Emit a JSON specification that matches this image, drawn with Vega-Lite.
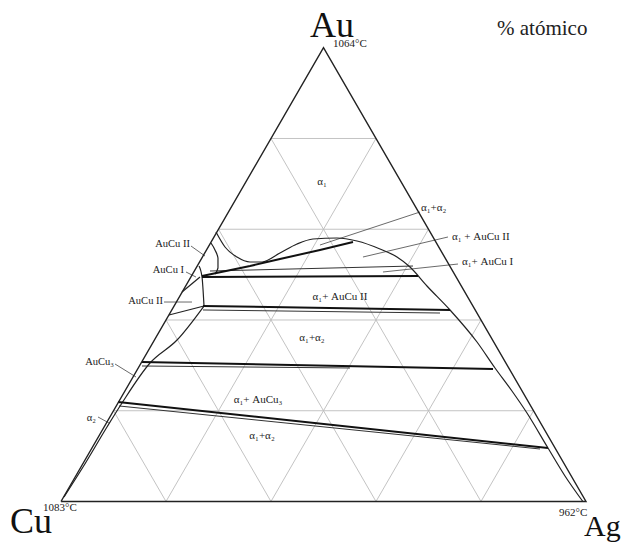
{
  "$schema": "https://vega.github.io/schema/vega-lite/v6.json",
  "width": 624,
  "height": 542,
  "padding": 0,
  "autosize": "none",
  "background": "white",
  "config": {"view": {"stroke": null}},
  "datasets": {
    "grid": [
      {"x": 10, "y": 17.32, "x2": 90, "y2": 17.32},
      {"x": 20, "y": 34.64, "x2": 80, "y2": 34.64},
      {"x": 30, "y": 51.96, "x2": 70, "y2": 51.96},
      {"x": 40, "y": 69.28, "x2": 60, "y2": 69.28},
      {"x": 20, "y": 0, "x2": 60, "y2": 69.28},
      {"x": 40, "y": 0, "x2": 70, "y2": 51.96},
      {"x": 60, "y": 0, "x2": 80, "y2": 34.64},
      {"x": 80, "y": 0, "x2": 90, "y2": 17.32},
      {"x": 80, "y": 0, "x2": 40, "y2": 69.28},
      {"x": 60, "y": 0, "x2": 30, "y2": 51.96},
      {"x": 40, "y": 0, "x2": 20, "y2": 34.64},
      {"x": 20, "y": 0, "x2": 10, "y2": 17.32}
    ],
    "outline": [
      {"i": 0, "x": 0, "y": 0},
      {"i": 1, "x": 100, "y": 0},
      {"i": 2, "x": 50, "y": 86.6},
      {"i": 3, "x": 0, "y": 0}
    ],
    "boundaries": [
      {"id": "dome", "i": 0, "x": 29.52, "y": 51.43},
      {"id": "dome", "i": 1, "x": 31.24, "y": 48.57},
      {"id": "dome", "i": 2, "x": 33.52, "y": 46.66},
      {"id": "dome", "i": 3, "x": 36.0, "y": 45.71},
      {"id": "dome", "i": 4, "x": 38.29, "y": 45.71},
      {"id": "dome", "i": 5, "x": 41.71, "y": 47.42},
      {"id": "dome", "i": 6, "x": 44.95, "y": 49.14},
      {"id": "dome", "i": 7, "x": 48.0, "y": 50.1},
      {"id": "dome", "i": 8, "x": 52.57, "y": 50.29},
      {"id": "dome", "i": 9, "x": 56.38, "y": 49.71},
      {"id": "dome", "i": 10, "x": 60.76, "y": 48.19},
      {"id": "dome", "i": 11, "x": 64.0, "y": 46.66},
      {"id": "dome", "i": 12, "x": 66.48, "y": 44.75},
      {"id": "dome", "i": 13, "x": 69.71, "y": 41.13},
      {"id": "dome", "i": 14, "x": 74.1, "y": 36.55},
      {"id": "dome", "i": 15, "x": 79.24, "y": 30.44},
      {"id": "dome", "i": 16, "x": 82.67, "y": 25.48},
      {"id": "dome", "i": 17, "x": 85.9, "y": 21.09},
      {"id": "dome", "i": 18, "x": 88.76, "y": 16.89},
      {"id": "dome", "i": 19, "x": 92.76, "y": 10.21},
      {"id": "dome", "i": 20, "x": 96.0, "y": 4.87},
      {"id": "dome", "i": 21, "x": 99.4, "y": 0},
      {"id": "cuSide", "i": 0, "x": 27.24, "y": 37.31},
      {"id": "cuSide", "i": 1, "x": 22.1, "y": 30.82},
      {"id": "cuSide", "i": 2, "x": 16.95, "y": 26.43},
      {"id": "cuSide", "i": 3, "x": 11.62, "y": 18.8},
      {"id": "cuSide", "i": 4, "x": 8.76, "y": 14.22},
      {"id": "cuSide", "i": 5, "x": 4.19, "y": 6.58},
      {"id": "cuSide", "i": 6, "x": 0.57, "y": 0.86},
      {"id": "arcII", "i": 0, "x": 28.57, "y": 49.33},
      {"id": "arcII", "i": 1, "x": 29.33, "y": 48.0},
      {"id": "arcII", "i": 2, "x": 29.9, "y": 46.47},
      {"id": "arcII", "i": 3, "x": 29.9, "y": 44.56},
      {"id": "arcII", "i": 4, "x": 29.33, "y": 43.42},
      {"id": "barII", "i": 0, "x": 26.29, "y": 44.94},
      {"id": "barII", "i": 1, "x": 26.86, "y": 42.84},
      {"id": "barII", "i": 2, "x": 27.24, "y": 37.31},
      {"id": "linkI", "i": 0, "x": 23.05, "y": 39.98},
      {"id": "linkI", "i": 1, "x": 26.48, "y": 42.84},
      {"id": "linkII", "i": 0, "x": 20.57, "y": 35.59},
      {"id": "linkII", "i": 1, "x": 27.24, "y": 37.31}
    ],
    "heavyTies": [
      {"id": "t1", "i": 0, "x": 26.86, "y": 43.03},
      {"id": "t1", "i": 1, "x": 36.0, "y": 44.94},
      {"id": "t1", "i": 2, "x": 41.71, "y": 46.28},
      {"id": "t1", "i": 3, "x": 49.33, "y": 48.0},
      {"id": "t1", "i": 4, "x": 55.62, "y": 49.52},
      {"id": "lb", "i": 0, "x": 26.86, "y": 42.84},
      {"id": "lb", "i": 1, "x": 68.0, "y": 43.03},
      {"id": "lc", "i": 0, "x": 27.05, "y": 37.31},
      {"id": "lc", "i": 1, "x": 74.1, "y": 36.55},
      {"id": "ta", "i": 0, "x": 15.43, "y": 26.62},
      {"id": "ta", "i": 1, "x": 82.29, "y": 25.29},
      {"id": "tc", "i": 0, "x": 10.86, "y": 18.99},
      {"id": "tc", "i": 1, "x": 92.76, "y": 10.21}
    ],
    "lightTies": [
      {"x": 28.38, "y": 43.99, "x2": 67.05, "y2": 44.94},
      {"x": 27.05, "y": 36.55, "x2": 72.19, "y2": 35.97},
      {"x": 15.43, "y": 25.86, "x2": 55.05, "y2": 25.48},
      {"x": 11.05, "y": 18.23, "x2": 91.24, "y2": 10.02}
    ],
    "leaders": [
      {"x": 49.33, "y": 48.95, "x2": 68.38, "y2": 55.25},
      {"x": 57.52, "y": 46.66, "x2": 73.71, "y2": 50.48},
      {"x": 61.33, "y": 43.8, "x2": 75.62, "y2": 45.32},
      {"x": 24.76, "y": 48.76, "x2": 27.43, "y2": 46.85},
      {"x": 23.81, "y": 43.8, "x2": 25.71, "y2": 42.84},
      {"x": 19.62, "y": 38.07, "x2": 24.95, "y2": 38.07},
      {"x": 10.29, "y": 26.24, "x2": 14.29, "y2": 23.76},
      {"x": 7.05, "y": 16.13, "x2": 9.14, "y2": 14.98}
    ],
    "elements": [
      {"x": 47.43, "y": 88.65, "text": "Au"},
      {"x": -9.71, "y": -6.01, "text": "Cu"}
    ],
    "silver": [
      {"x": 99.62, "y": -6.68, "text": "Ag"}
    ],
    "meltingPoints": [
      {"x": 51.81, "y": 86.74, "text": "1064°C"},
      {"x": -3.43, "y": -1.81, "text": "1083°C"},
      {"x": 94.86, "y": -2.77, "text": "962°C"}
    ],
    "caption": [
      {"x": 83.05, "y": 89.03, "text": "% atómico"}
    ],
    "fieldsCentered": [
      {"x": 49.71, "y": 60.97, "text": "α₁"},
      {"x": 53.14, "y": 39.03, "text": "α₁+ AuCu II"},
      {"x": 47.81, "y": 31.2, "text": "α₁+α₂"},
      {"x": 37.52, "y": 19.37, "text": "α₁+ AuCu₃"},
      {"x": 38.29, "y": 12.5, "text": "α₁+α₂"}
    ],
    "fieldsRight": [
      {"x": 68.57, "y": 56.01, "text": "α₁+α₂"},
      {"x": 74.48, "y": 50.48, "text": "α₁ + AuCu II"},
      {"x": 76.38, "y": 45.71, "text": "α₁+ AuCu I"}
    ],
    "fieldsLeft": [
      {"x": 24.57, "y": 49.14, "text": "AuCu II"},
      {"x": 23.43, "y": 44.18, "text": "AuCu I"},
      {"x": 19.43, "y": 38.26, "text": "AuCu II"},
      {"x": 10.1, "y": 26.62, "text": "AuCu₃"},
      {"x": 6.67, "y": 15.94, "text": "α₂"}
    ]
  },
  "encoding": {
    "x": {"field": "x", "type": "quantitative", "scale": {"domain": [-11.62, 107.24], "nice": false, "zero": false}, "axis": null},
    "y": {"field": "y", "type": "quantitative", "scale": {"domain": [-7.73, 95.71], "nice": false, "zero": false}, "axis": null}
  },
  "layer": [
    {
      "data": {"name": "grid"},
      "mark": {"type": "rule", "stroke": "#bcbcbc", "strokeWidth": 0.9},
      "encoding": {"x2": {"field": "x2"}, "y2": {"field": "y2"}}
    },
    {
      "data": {"name": "lightTies"},
      "mark": {"type": "rule", "stroke": "#333333", "strokeWidth": 1},
      "encoding": {"x2": {"field": "x2"}, "y2": {"field": "y2"}}
    },
    {
      "data": {"name": "leaders"},
      "mark": {"type": "rule", "stroke": "#444444", "strokeWidth": 0.8},
      "encoding": {"x2": {"field": "x2"}, "y2": {"field": "y2"}}
    },
    {
      "data": {"name": "boundaries"},
      "mark": {"type": "line", "stroke": "#222222", "strokeWidth": 1.2, "interpolate": "monotone"},
      "encoding": {"detail": {"field": "id"}, "order": {"field": "i"}}
    },
    {
      "data": {"name": "heavyTies"},
      "mark": {"type": "line", "stroke": "#111111", "strokeWidth": 2},
      "encoding": {"detail": {"field": "id"}, "order": {"field": "i"}}
    },
    {
      "data": {"name": "outline"},
      "mark": {"type": "line", "stroke": "#222222", "strokeWidth": 1.4, "strokeJoin": "miter"},
      "encoding": {"order": {"field": "i"}}
    },
    {
      "data": {"name": "elements"},
      "mark": {"type": "text", "font": "Liberation Serif", "fontSize": 36, "align": "left", "baseline": "alphabetic", "color": "#111111"},
      "encoding": {"text": {"field": "text"}}
    },
    {
      "data": {"name": "silver"},
      "mark": {"type": "text", "font": "Liberation Serif", "fontSize": 30, "align": "left", "baseline": "alphabetic", "color": "#111111"},
      "encoding": {"text": {"field": "text"}}
    },
    {
      "data": {"name": "meltingPoints"},
      "mark": {"type": "text", "font": "Liberation Serif", "fontSize": 11, "align": "left", "baseline": "alphabetic", "color": "#222222"},
      "encoding": {"text": {"field": "text"}}
    },
    {
      "data": {"name": "caption"},
      "mark": {"type": "text", "font": "Liberation Serif", "fontSize": 21, "align": "left", "baseline": "alphabetic", "color": "#222222"},
      "encoding": {"text": {"field": "text"}}
    },
    {
      "data": {"name": "fieldsCentered"},
      "mark": {"type": "text", "font": "Liberation Serif", "fontSize": 11, "align": "center", "baseline": "middle", "color": "#222222"},
      "encoding": {"text": {"field": "text"}}
    },
    {
      "data": {"name": "fieldsRight"},
      "mark": {"type": "text", "font": "Liberation Serif", "fontSize": 11, "align": "left", "baseline": "middle", "color": "#222222"},
      "encoding": {"text": {"field": "text"}}
    },
    {
      "data": {"name": "fieldsLeft"},
      "mark": {"type": "text", "font": "Liberation Serif", "fontSize": 10.5, "align": "right", "baseline": "middle", "color": "#222222"},
      "encoding": {"text": {"field": "text"}}
    }
  ]
}
